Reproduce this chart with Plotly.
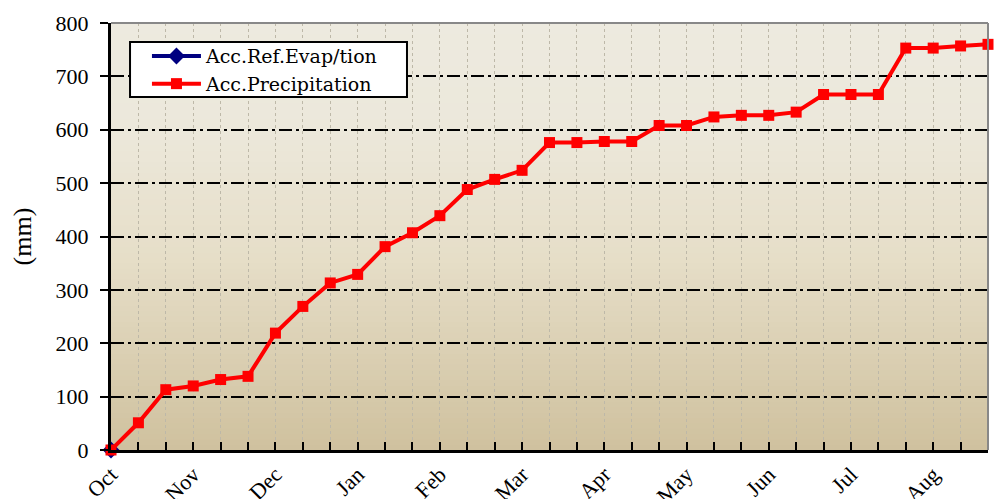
import plotly.graph_objects as go

months = ["Oct", "Nov", "Dec", "Jan", "Feb", "Mar", "Apr", "May", "Jun", "Jul", "Aug"]
dekads = list(range(33))
acc_precip = [0, 51, 113, 120, 132, 138, 219, 269, 313, 329, 381, 407, 439, 488, 507, 524,
              576, 576, 578, 578, 608, 608, 624, 627, 627, 633, 666, 666, 666, 753, 753, 757, 760]
acc_evap = [0] + [None] * 32
y_ticks = [0, 100, 200, 300, 400, 500, 600, 700, 800]

tick_text = []
for i in dekads:
    tick_text.append(months[i // 3] if i % 3 == 0 else "")

fig = go.Figure()
fig.add_trace(go.Scatter(x=dekads, y=acc_evap, name="Acc.Ref.Evap/tion", mode="lines+markers",
                         line=dict(color="#000080", width=4),
                         marker=dict(symbol="diamond", size=13, color="#000080"),
                         cliponaxis=False))
fig.add_trace(go.Scatter(x=dekads, y=acc_precip, name="Acc.Precipitation", mode="lines+markers",
                         line=dict(color="#FF0000", width=4),
                         marker=dict(symbol="square", size=11, color="#FF0000"),
                         cliponaxis=False))

# gradient background bands
def lerp(c1, c2, t):
    return tuple(round(a + (b - a) * t) for a, b in zip(c1, c2))

stops = [(0.0, (207, 193, 158)), (0.45, (230, 222, 200)), (0.75, (236, 232, 219)), (1.0, (237, 234, 223))]
n = 80
shapes = []
for k in range(n):
    t = (k + 0.5) / n
    for j in range(len(stops) - 1):
        if stops[j][0] <= t <= stops[j + 1][0]:
            tt = (t - stops[j][0]) / (stops[j + 1][0] - stops[j][0])
            c = lerp(stops[j][1], stops[j + 1][1], tt)
            break
    shapes.append(dict(type="rect", xref="x domain", yref="y domain", x0=0, x1=1,
                       y0=k / n, y1=(k + 1) / n + 0.002, fillcolor="rgb(%d,%d,%d)" % c,
                       line=dict(width=0), layer="below"))
shapes.append(dict(type="line", xref="x domain", yref="y domain", x0=0, x1=1, y0=1, y1=1,
                   line=dict(color="#888888", width=2)))
shapes.append(dict(type="line", xref="x domain", yref="y domain", x0=1, x1=1, y0=0, y1=1,
                   line=dict(color="#888888", width=2)))
# legend frame
shapes.append(dict(type="rect", xref="x domain", yref="y domain", x0=0.0217, x1=0.3375,
                   y0=0.8267, y1=0.9555, fillcolor="white",
                   line=dict(color="black", width=2), layer="above"))

font_family = "Liberation Serif"
fig.update_layout(
    width=1000, height=499,
    margin=dict(l=111, r=12, t=23, b=49),
    paper_bgcolor="white", plot_bgcolor="rgba(0,0,0,0)",
    shapes=shapes,
    font=dict(family=font_family, size=22, color="black"),
    showlegend=True,
    legend=dict(x=0.041, y=0.967, xanchor="left", yanchor="top",
                bgcolor="rgba(0,0,0,0)", borderwidth=0,
                font=dict(family="DejaVu Serif", size=19), tracegroupgap=0, itemwidth=49),
    xaxis=dict(range=[0, 32], tickvals=dekads, ticktext=tick_text, tickangle=-45,
               ticks="inside", ticklen=8, tickwidth=2, tickcolor="black",
               showline=True, linecolor="black", linewidth=3, automargin=False,
               showgrid=True, gridcolor="#bdb8a8", griddash="dot", gridwidth=1,
               zeroline=False, tickfont=dict(size=22)),
    yaxis=dict(range=[0, 800], tickvals=y_ticks, ticks="outside", ticklen=8, tickwidth=2,
               tickcolor="black", showline=True, linecolor="black", linewidth=3, automargin=False,
               ticklabelstandoff=7,
               showgrid=True, gridcolor="black", griddash="13px,4px,3px,4px", gridwidth=2,
               zeroline=False, title=dict(text="(mm)", standoff=17), tickfont=dict(size=22)),
)
fig.write_html("out.html", config={"displayModeBar": False},
               post_script="document.body.style.margin='0px';")
